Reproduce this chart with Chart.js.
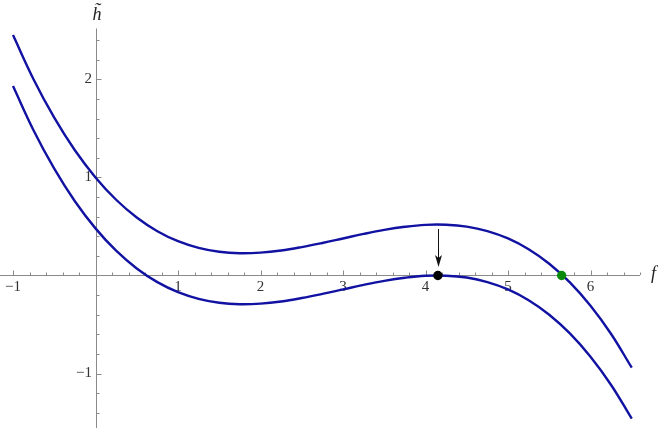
<!DOCTYPE html>
<html>
<head>
<meta charset="utf-8">
<script src="https://cdn.jsdelivr.net/npm/chart.js@4.4.1/dist/chart.umd.min.js"></script>
<style>
  html, body { margin: 0; padding: 0; background: #fff; }
  #wrap { width: 664px; height: 428px; }
</style>
</head>
<body>
<div id="wrap"><canvas id="plot"></canvas></div>
<script>
// sample points
const fValues = [-1, -0.75, -0.5, -0.25, 0, 0.25, 0.5, 0.75, 1, 1.25, 1.5, 1.75, 2, 2.25, 2.5, 2.75,
  3, 3.25, 3.5, 3.75, 4, 4.25, 4.5, 4.75, 5, 5.25, 5.5, 5.75, 6, 6.25, 6.5];
const upperCurve = [2.453, 2.000, 1.610, 1.278, 1.001, 0.773, 0.592, 0.452, 0.350, 0.282, 0.242,
  0.227, 0.233, 0.255, 0.290, 0.332, 0.378, 0.424, 0.465, 0.497, 0.517, 0.518, 0.499, 0.453,
  0.378, 0.268, 0.120, -0.071, -0.309, -0.597, -0.941];
const lowerCurve = [1.933, 1.480, 1.090, 0.758, 0.481, 0.253, 0.072, -0.068, -0.170, -0.238, -0.278,
  -0.293, -0.287, -0.265, -0.230, -0.188, -0.142, -0.096, -0.055, -0.023, -0.003, -0.002, -0.021,
  -0.067, -0.142, -0.252, -0.400, -0.591, -0.829, -1.117, -1.461];
const blackPoint = [4.15, 0];
const greenPoint = [5.65, 0];
const arrowFrom = [4.15, 0.474];
const arrowTo = [4.15, 0.087];

const xTickLabels = [-1, 1, 2, 3, 4, 5, 6];
const yTickLabels = [-1, 1, 2];

const curveColor = '#1212a2';
const axisColor = '#8a8a8a';
const labelFont = '15px "Liberation Serif", "DejaVu Serif", serif';

const toXY = (xs, ys) => xs.map((x, i) => ({ x: x, y: ys[i] }));
const fmt = v => (v < 0 ? '\u2212' + Math.abs(v) : String(v));

// Mathematica-style axes through the origin
const axesPlugin = {
  id: 'mmaAxes',
  beforeDatasetsDraw(chart) {
    const { ctx, scales: { x, y } } = chart;
    const x0 = Math.round(x.getPixelForValue(0));
    const y0 = Math.round(y.getPixelForValue(0));
    ctx.save();
    ctx.strokeStyle = axisColor;
    ctx.lineWidth = 1;
    ctx.beginPath();
    ctx.moveTo(0, y0 + 0.5);
    ctx.lineTo(x.getPixelForValue(6.6), y0 + 0.5);
    ctx.moveTo(x0 + 0.5, y.getPixelForValue(2.52));
    ctx.lineTo(x0 + 0.5, chart.height);
    ctx.stroke();

    // x ticks (above the axis)
    ctx.beginPath();
    for (let k = -5; k <= 33; k++) {
      const v = k / 5;
      if (v < x.min || v > 6.6 || k === 0) continue;
      const px = Math.round(x.getPixelForValue(v)) + 0.5;
      const len = k % 5 === 0 ? 4.5 : 2.5;
      ctx.moveTo(px, y0);
      ctx.lineTo(px, y0 - len);
    }
    // y ticks (right of the axis)
    for (let k = -8; k <= 12; k++) {
      const v = k / 5;
      if (v < y.min || k === 0) continue;
      const py = Math.round(y.getPixelForValue(v)) + 0.5;
      const len = k % 5 === 0 ? 4.5 : 2.5;
      ctx.moveTo(x0 + 1, py);
      ctx.lineTo(x0 + 1 + len, py);
    }
    ctx.stroke();

    ctx.fillStyle = '#333';
    ctx.font = labelFont;
    ctx.textAlign = 'center';
    ctx.textBaseline = 'top';
    xTickLabels.forEach(v => ctx.fillText(fmt(v), x.getPixelForValue(v), y0 + 5));
    ctx.textAlign = 'right';
    ctx.textBaseline = 'middle';
    yTickLabels.forEach(v => ctx.fillText(fmt(v), x0 - 4, y.getPixelForValue(v)));

    ctx.fillStyle = '#222';
    ctx.font = 'italic 18px "Liberation Serif", "DejaVu Serif", serif';
    ctx.textAlign = 'left';
    ctx.textBaseline = 'middle';
    ctx.fillText('f', x.getPixelForValue(6.6) + 11, y0 - 1);
    ctx.textAlign = 'center';
    ctx.fillText('h\u0303', x0 + 1, 15);
    ctx.restore();
  },
  afterDatasetsDraw(chart) {
    const { ctx, scales: { x, y } } = chart;
    const ax = Math.round(x.getPixelForValue(arrowFrom[0])) + 0.5;
    const ay1 = y.getPixelForValue(arrowFrom[1]);
    const ay2 = y.getPixelForValue(arrowTo[1]);
    ctx.save();
    ctx.strokeStyle = '#111';
    ctx.fillStyle = '#111';
    ctx.lineWidth = 1;
    ctx.beginPath();
    ctx.moveTo(ax, ay1);
    ctx.lineTo(ax, ay2 - 8);
    ctx.stroke();
    ctx.beginPath();
    ctx.moveTo(ax, ay2);
    ctx.lineTo(ax - 3.5, ay2 - 12);
    ctx.lineTo(ax, ay2 - 9);
    ctx.lineTo(ax + 3.5, ay2 - 12);
    ctx.closePath();
    ctx.fill();
    ctx.restore();
  }
};

new Chart(document.getElementById('plot'), {
  type: 'scatter',
  data: {
    datasets: [
      {
        label: 'critical',
        data: [{ x: blackPoint[0], y: blackPoint[1] }],
        pointRadius: 4.7,
        pointBackgroundColor: '#000',
        pointBorderWidth: 0,
        showLine: false
      },
      {
        label: 'root',
        data: [{ x: greenPoint[0], y: greenPoint[1] }],
        pointRadius: 4.7,
        pointBackgroundColor: '#0a8a0a',
        pointBorderWidth: 0,
        showLine: false
      },
      {
        label: 'upper',
        data: toXY(fValues, upperCurve),
        showLine: true,
        borderColor: curveColor,
        borderWidth: 2.4,
        pointRadius: 0,
        tension: 0.4
      },
      {
        label: 'lower',
        data: toXY(fValues, lowerCurve),
        showLine: true,
        borderColor: curveColor,
        borderWidth: 2.4,
        pointRadius: 0,
        tension: 0.4
      }
    ]
  },
  options: {
    responsive: true,
    maintainAspectRatio: false,
    animation: false,
    layout: { padding: 0, autoPadding: false },
    plugins: { legend: { display: false }, tooltip: { enabled: false } },
    scales: {
      x: { type: 'linear', display: false, min: -1.1576, max: 6.8909 },
      y: { type: 'linear', display: false, min: -1.556, max: 2.811 }
    }
  },
  plugins: [axesPlugin]
});
</script>
</body>
</html>
